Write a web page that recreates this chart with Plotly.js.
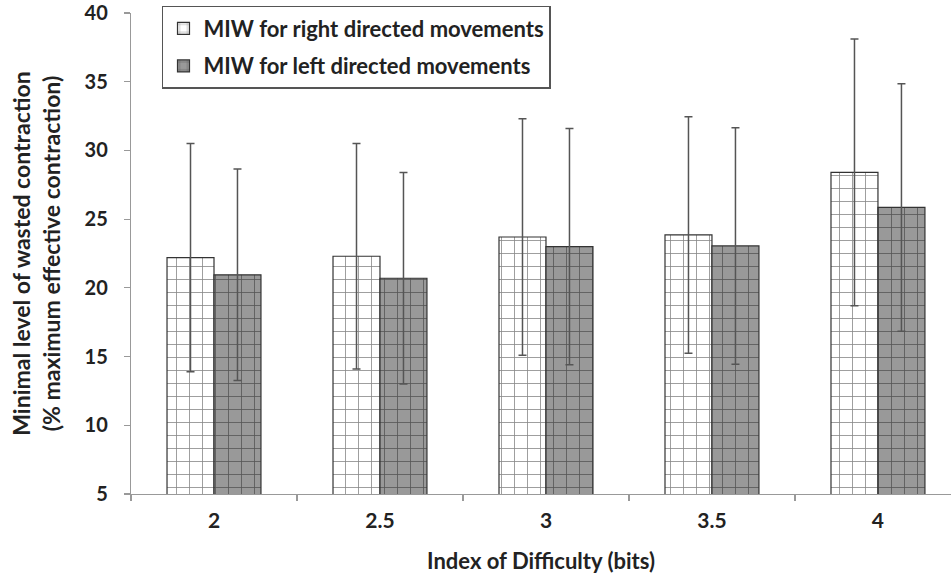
<!DOCTYPE html>
<html>
<head>
<meta charset="utf-8">
<script src="https://cdn.plot.ly/plotly-3.0.1.min.js"></script>
<style>html,body{margin:0;padding:0;background:#fff}#chart{width:951px;height:574px}</style>
</head>
<body>
<div id="chart"></div>
<script>
const categories = ['2', '2.5', '3', '3.5', '4'];
const rightMean = [22.2, 22.3, 23.7, 23.85, 28.4];
const rightErr = [8.3, 8.2, 8.6, 8.6, 9.7];
const leftMean = [20.95, 20.7, 23.0, 23.05, 25.85];
const leftErr = [7.7, 7.7, 8.6, 8.6, 9.0];
const seriesNames = ['MIW for right directed movements', 'MIW for left directed movements'];

const font = 'Lato, "Open Sans", sans-serif';

const traces = [
  {
    type: 'bar', name: seriesNames[0], x: categories, y: rightMean, legendgroup: 'a',
    marker: {color: '#ffffff', line: {color: '#333333', width: 1.2},
      pattern: {shape: '+', size: 13, solidity: 0.12, fgcolor: '#555555', bgcolor: '#ffffff', fgopacity: 0.7}},
    error_y: {type: 'data', array: rightErr, visible: true, color: '#555555', thickness: 1.5, width: 4}
  },
  {
    type: 'bar', name: seriesNames[1], x: categories, y: leftMean, legendgroup: 'b',
    marker: {color: '#999999', line: {color: '#333333', width: 1.2},
      pattern: {shape: '+', size: 13, solidity: 0.12, fgcolor: '#444444', bgcolor: '#999999', fgopacity: 0.8}},
    error_y: {type: 'data', array: leftErr, visible: true, color: '#555555', thickness: 1.5, width: 4}
  }
];

const layout = {
  width: 951, height: 574,
  margin: {l: 131, r: 0, t: 13, b: 80},
  paper_bgcolor: '#ffffff', plot_bgcolor: '#ffffff',
  barmode: 'group', bargap: 0.434, bargroupgap: 0,
  font: {family: font, color: '#222222'},
  showlegend: true,
  legend: {
    x: 0.0378, y: 1.0146, xanchor: 'left', yanchor: 'top',
    bordercolor: '#555555', borderwidth: 1.5, bgcolor: '#ffffff',
    font: {family: font, size: 22, color: '#222222', weight: 'bold'},
    traceorder: 'grouped', tracegroupgap: 6
  },
  xaxis: {
    type: 'category', range: [-0.5, 4.44],
    tickson: 'boundaries', ticks: 'outside', ticklen: 6, tickcolor: '#999999', tickwidth: 1.2,
    showline: true, linecolor: '#999999', linewidth: 1.2, showgrid: false, zeroline: false,
    tickfont: {family: font, size: 21, color: '#222222', weight: 'bold'},
    ticklabelstandoff: 8,
    title: {text: 'Index of Difficulty (bits)', standoff: 22,
      font: {family: font, size: 22, color: '#222222', weight: 'bold'}}
  },
  yaxis: {
    range: [5, 40], dtick: 5, tick0: 5,
    ticks: 'outside', ticklen: 6, tickcolor: '#999999', tickwidth: 1.2,
    showline: true, linecolor: '#999999', linewidth: 1.2, showgrid: false, zeroline: false,
    tickfont: {family: font, size: 20, color: '#222222', weight: 'bold'},
    ticklabelstandoff: 12,
    title: {text: 'Minimal level of wasted contraction<br>(% maximum effective contraction)', standoff: 17,
      font: {family: font, size: 23, color: '#222222', weight: 'bold'}}
  }
};

Plotly.newPlot('chart', traces, layout, {displayModeBar: false, staticPlot: true});
</script>
</body>
</html>
